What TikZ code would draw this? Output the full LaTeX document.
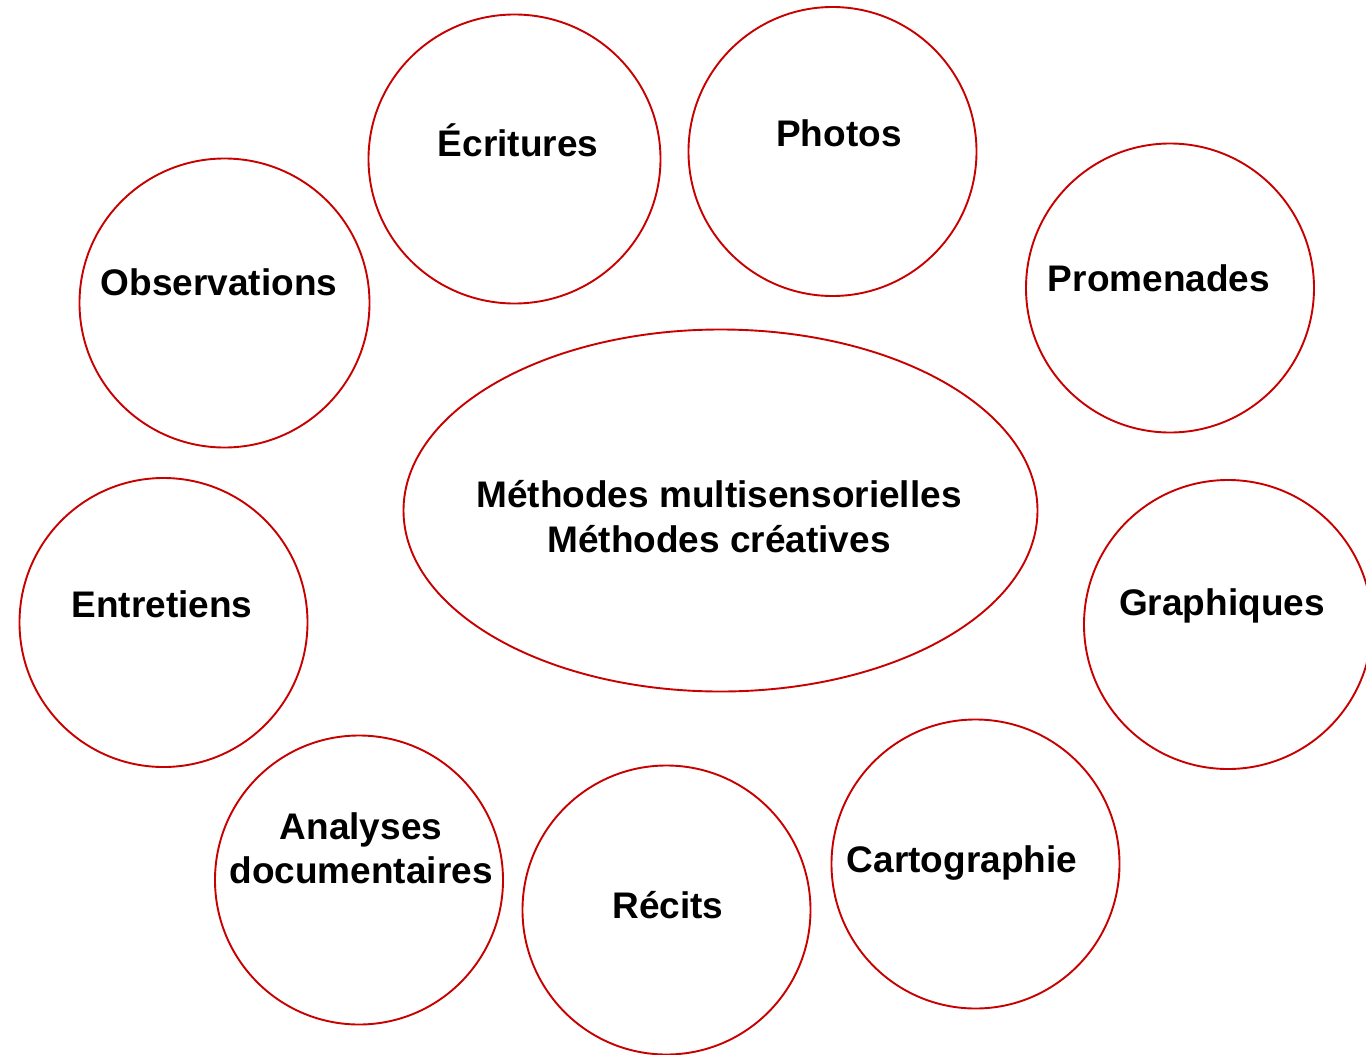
\documentclass[tikz,border=0pt]{standalone}
\usepackage{fontspec}
\setmainfont{Liberation Sans}
\usetikzlibrary{shapes.geometric}
\definecolor{bubblered}{RGB}{200,0,0}

\begin{document}
\begin{tikzpicture}[x=1pt,y=-1pt,line width=1.9pt]

	\useasboundingbox (0,0) rectangle (1366,1055);

	\begin{scope}[every node/.style={draw=bubblered,ellipse,outer sep=0pt,inner sep=0pt,minimum width=288pt,minimum height=289pt}]
		\node[minimum width=634pt,minimum height=362pt] (methods) at (720.5,510.5) {};
		\node[minimum width=292pt] (ecritures) at (514.5,159) {};
		\node (photos) at (832.5,151.5) {};
		\node (promenades) at (1170,288) {};
		\node (graphiques) at (1228,624.5) {};
		\node (cartographie) at (975.5,864) {};
		\node (recits) at (666.5,910) {};
		\node (analyses) at (359,880) {};
		\node (entretiens) at (163.5,622.5) {};
		\node[minimum width=290pt] (observations) at (224.5,303) {};
	\end{scope}

	\begin{scope}[every node/.style={anchor=base,inner sep=0pt,align=center,font=\fontsize{37}{44}\selectfont\bfseries}]
		\node (methods-a) at (719,507) {Méthodes multisensorielles};
		\node (methods-b) at (719,552) {Méthodes créatives};
		\node (ecritures-t) at (518,156) {Écritures};
		\node (photos-t) at (839,146) {Photos};
		\node (promenades-t) at (1159,291) {Promenades};
		\node (graphiques-t) at (1222,615) {Graphiques};
		\node (cartographie-t) at (962,872) {Cartographie};
		\node (recits-t) at (668,918) {Récits};
		\node (analyses-a) at (361,839) {Analyses};
		\node (analyses-b) at (361,883) {documentaires};
		\node (entretiens-t) at (162,617) {Entretiens};
		\node (observations-t) at (219,295) {Observations};
	\end{scope}

\end{tikzpicture}
\end{document}
